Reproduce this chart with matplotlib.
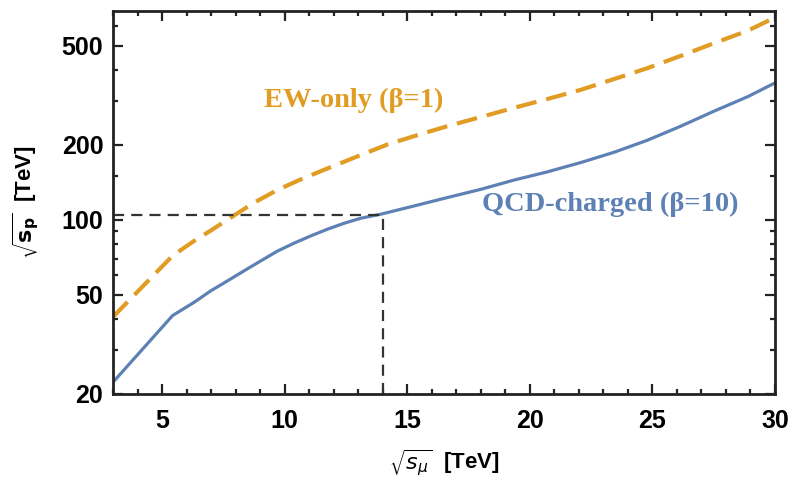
import numpy as np
import matplotlib.pyplot as plt
from matplotlib.ticker import FixedLocator, NullFormatter, MultipleLocator

# Curves (sqrt(s_mu) in TeV vs sqrt(s_p) in TeV)
x_ew = [3.0, 5.43, 6.31, 7.0, 7.95, 8.76, 9.71, 10.66, 11.75, 12.97, 14.2,
        15.28, 16.64, 18.0, 19.36, 20.72, 22.08, 23.44, 24.8, 26.16, 27.5, 28.9, 30.0]
y_ew = [40.8, 71.8, 82.4, 90.8, 104.4, 117.4, 132.0, 145.5, 161.0, 180.0, 201.0,
        217.0, 238.0, 259.0, 282.0, 306.0, 333.0, 368.0, 407.0, 456.0, 512.0, 576.0, 650.0]

x_qcd = [3.0, 5.43, 6.31, 7.0, 7.68, 8.35, 9.03, 9.71, 10.39, 11.07, 11.75, 12.43,
         13.11, 13.93, 15.28, 16.64, 18.0, 19.36, 20.72, 22.08, 23.44, 24.8, 26.16,
         27.5, 28.9, 30.0]
y_qcd = [22.3, 41.3, 46.7, 52.0, 57.0, 62.5, 68.5, 75.0, 80.7, 86.3, 91.8, 97.0,
         101.6, 105.5, 113.8, 123.0, 132.7, 144.6, 156.0, 170.0, 187.0, 209.0, 238.0,
         273.0, 313.0, 355.0]

# Reference point: sqrt(s_mu)=14 TeV
x_ref = 14.0
y_ref = 105.0

y_major = [20, 50, 100, 200, 500]
y_minor = [30, 40, 60, 70, 80, 90, 150, 300, 400, 600]

orange = '#E19C24'
blue = '#5E81B5'

fig = plt.figure(figsize=(7.93, 4.82), dpi=100)
ax = fig.add_axes([0.1425, 0.1826, 0.8348, 0.7945])

ax.plot(x_ew, y_ew, color=orange, lw=3.0, dashes=(5, 2.4))
ax.plot(x_qcd, y_qcd, color=blue, lw=2.3)

# Dashed guide lines to the 14 TeV point
ax.plot([3, x_ref], [y_ref, y_ref], color='#333333', lw=1.6, dashes=(5, 3.2))
ax.plot([x_ref, x_ref], [20, y_ref], color='#333333', lw=1.6, dashes=(5, 3.2))

ax.set_yscale('log')
ax.set_xlim(3, 30)
ax.set_ylim(20, 690)

ax.xaxis.set_major_locator(MultipleLocator(5))
ax.xaxis.set_minor_locator(MultipleLocator(1))
ax.yaxis.set_major_locator(FixedLocator(y_major))
ax.yaxis.set_minor_locator(FixedLocator(y_minor))
ax.yaxis.set_major_formatter(plt.FuncFormatter(lambda v, p: '%d' % v))
ax.yaxis.set_minor_formatter(NullFormatter())

ax.tick_params(which='both', direction='in', top=True, right=True, width=1.6, color='#222222')
ax.tick_params(which='major', length=7)
ax.tick_params(which='minor', length=3.5)
ax.tick_params(axis='x', which='major', pad=11)
ax.tick_params(axis='y', which='major', pad=7)
for lab in ax.get_xticklabels() + ax.get_yticklabels():
    lab.set_fontfamily('Liberation Sans')
    lab.set_fontweight('bold')
    lab.set_fontsize(18)

for s in ax.spines.values():
    s.set_linewidth(2.0)
    s.set_color('#222222')

ax.set_xlabel(r'$\sqrt{s_\mu}$  [TeV]', fontfamily='Liberation Sans', fontweight='bold',
              fontsize=16, labelpad=10)
ax.set_ylabel(r'$\sqrt{\mathbf{s}_\mathbf{p}}$  [TeV]', fontfamily='Liberation Sans', fontweight='bold',
              fontsize=16, labelpad=14)

# Curve labels
ax.text(12.8, 301, 'EW-only (β=1)', color=orange, fontfamily='Liberation Serif',
        fontweight='bold', fontsize=20.5, ha='center', va='center')
ax.text(23.3, 115.5, 'QCD-charged (β=10)', color=blue, fontfamily='Liberation Serif',
        fontweight='bold', fontsize=20.5, ha='center', va='center')

plt.savefig('out.png', dpi=100)
